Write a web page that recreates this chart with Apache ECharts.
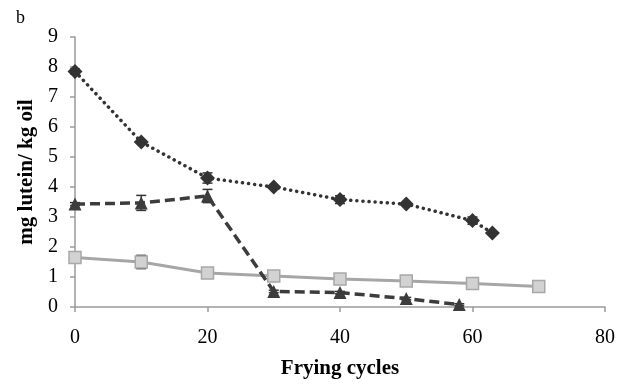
<!DOCTYPE html>
<html>
<head>
<meta charset="utf-8">
<script src="https://cdn.jsdelivr.net/npm/echarts@6/dist/echarts.min.js"></script>
<style>html,body{margin:0;padding:0;background:#fff;}#c{width:629px;height:387px;}</style>
</head>
<body>
<div id="c"></div>
<script>
var xTicks = [0, 20, 40, 60, 80];
var yTicks = [0, 1, 2, 3, 4, 5, 6, 7, 8, 9];

var diamondX = [0, 10, 20, 30, 40, 50, 60, 63];
var diamondY = [7.85, 5.5, 4.3, 4.0, 3.58, 3.43, 2.88, 2.47];
var diamondErr = [0.08, 0.05, 0.17, 0.03, 0.13, 0.03, 0.12, 0.03];

var triX = [0, 10, 20, 30, 40, 50, 58];
var triY = [3.43, 3.47, 3.7, 0.52, 0.48, 0.28, 0.08];
var triErr = [0.05, 0.25, 0.22, 0.04, 0.04, 0.04, 0.03];

var sqX = [0, 10, 20, 30, 40, 50, 60, 70];
var sqY = [1.65, 1.5, 1.13, 1.03, 0.93, 0.87, 0.78, 0.68];
var sqErr = [0.1, 0.22, 0.05, 0.05, 0.04, 0.04, 0.04, 0.04];

function pairs(xs, ys) { return xs.map(function (x, i) { return [x, ys[i]]; }); }
function errs(xs, ys, es) { return xs.map(function (x, i) { return [x, ys[i] - es[i], ys[i] + es[i]]; }); }

function errSeries(data, color) {
  return {
    type: 'custom',
    z: 1,
    data: data,
    encode: { x: 0, y: [1, 2] },
    renderItem: function (params, api) {
      var x = api.value(0);
      var lo = api.coord([x, api.value(1)]);
      var hi = api.coord([x, api.value(2)]);
      var w = 5;
      var st = { stroke: color, lineWidth: 1.5 };
      return {
        type: 'group',
        children: [
          { type: 'line', shape: { x1: lo[0], y1: lo[1], x2: hi[0], y2: hi[1] }, style: st },
          { type: 'line', shape: { x1: lo[0] - w, y1: lo[1], x2: lo[0] + w, y2: lo[1] }, style: st },
          { type: 'line', shape: { x1: hi[0] - w, y1: hi[1], x2: hi[0] + w, y2: hi[1] }, style: st }
        ]
      };
    }
  };
}

var chart = echarts.init(document.getElementById('c'), null, { renderer: 'canvas' });
var fontFam = '"Liberation Serif", "Times New Roman", serif';
chart.setOption({
  animation: false,
  backgroundColor: '#fff',
  textStyle: { fontFamily: fontFam },
  graphic: [
    { type: 'text', left: 16, top: 9, style: { text: 'b', font: '18px ' + fontFam, fill: '#000' } }
  ],
  grid: { left: 75, right: 24, top: 37, bottom: 80 },
  xAxis: {
    type: 'value', min: xTicks[0], max: xTicks[xTicks.length - 1], interval: 20,
    name: 'Frying cycles', nameLocation: 'middle', nameGap: 51,
    nameTextStyle: { fontFamily: fontFam, fontWeight: 'bold', fontSize: 21, color: '#000' },
    axisLine: { lineStyle: { color: '#9a9a9a', width: 1.5 } },
    axisTick: { show: true, length: 5, lineStyle: { color: '#9a9a9a', width: 1.5 } },
    axisLabel: { fontFamily: fontFam, fontSize: 20, color: '#000', margin: 21 },
    splitLine: { show: false }
  },
  yAxis: {
    type: 'value', min: yTicks[0], max: yTicks[yTicks.length - 1], interval: 1,
    name: 'mg lutein/ kg oil', nameLocation: 'middle', nameGap: 38,
    nameTextStyle: { fontFamily: fontFam, fontWeight: 'bold', fontSize: 21, color: '#000' },
    axisLine: { show: true, lineStyle: { color: '#9a9a9a', width: 1.5 } },
    axisTick: { show: true, length: 5, lineStyle: { color: '#9a9a9a', width: 1.5 } },
    axisLabel: { fontFamily: fontFam, fontSize: 20, color: '#000', margin: 17 },
    splitLine: { show: false }
  },
  series: [
    errSeries(errs(sqX, sqY, sqErr), '#333'),
    errSeries(errs(triX, triY, triErr), '#333'),
    errSeries(errs(diamondX, diamondY, diamondErr), '#333'),
    {
      type: 'line', data: pairs(sqX, sqY), z: 2,
      symbol: 'rect', symbolSize: 12,
      itemStyle: { color: '#d2d2d2', borderColor: '#a8a8a8', borderWidth: 1.5 },
      lineStyle: { color: '#a6a6a6', width: 3 }
    },
    {
      type: 'line', data: pairs(triX, triY), z: 3,
      symbol: 'triangle', symbolSize: 13,
      itemStyle: { color: '#3c3c3c' },
      lineStyle: { color: '#3c3c3c', width: 3.5, type: [10, 5] }
    },
    {
      type: 'line', data: pairs(diamondX, diamondY), z: 4,
      symbol: 'diamond', symbolSize: 15,
      itemStyle: { color: '#333' },
      lineStyle: { color: '#333', width: 3.5, type: [0.1, 6], cap: 'round' }
    }
  ]
});
</script>
</body>
</html>
